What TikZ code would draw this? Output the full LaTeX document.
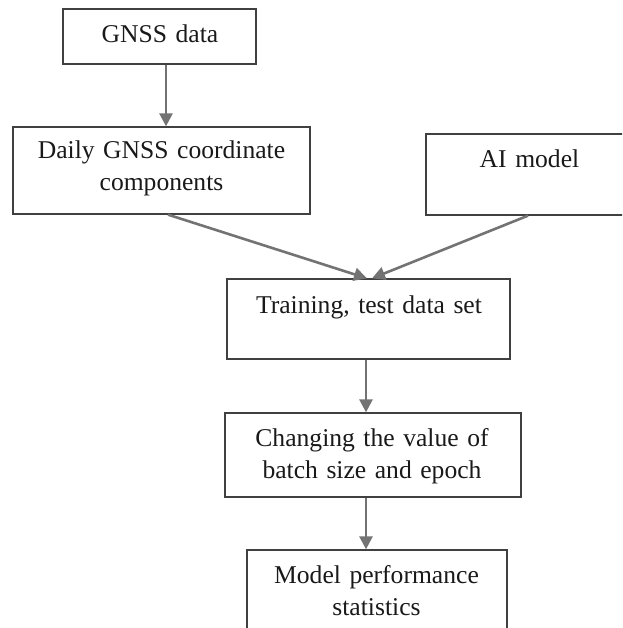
\documentclass[tikz,border=0pt]{standalone}
\usepackage{fontspec}
\setmainfont{Liberation Serif}
\usetikzlibrary{arrows.meta}
\begin{document}
\begin{tikzpicture}[x=1pt,y=-1pt,
  box/.style={draw=black!75,line width=1.3pt,inner sep=0pt,minimum width=#1},
  txt/.style={inner sep=0pt,anchor=base,text width=320pt,align=center,
    font=\fontsize{25.6}{32}\selectfont,text=black!90},
  arr/.style={draw=black!55,line width=2.6pt,-{Triangle[length=13pt,width=13pt]}}]
\useasboundingbox (0,0) rectangle (622,628);
\clip (0,0) rectangle (622,628);
% boxes
\node[box=193pt,minimum height=55pt] (gnss) at (159.5,36.5) {};
\node[box=297pt,minimum height=87pt] (daily) at (161.5,170.5) {};
\node[box=224pt,minimum height=81pt] (ai) at (538,174.5) {};
\node[box=283pt,minimum height=80pt] (train) at (368.5,319) {};
\node[box=296pt,minimum height=84pt] (change) at (373,455) {};
\node[box=260pt,minimum height=120pt] (model) at (377,610) {};
% texts
\node[txt] (t1) at (160,43) {GNSS data};
\node[txt] (t2) at (161.5,159) {Daily GNSS coordinate\\components};
\node[txt] (t3) at (529.5,168) {AI model};
\node[txt] (t4) at (369,313) {Training, test data set};
\node[txt] (t5) at (372,446) {Changing the value of\\batch size and epoch};
\node[txt] (t6) at (376.5,583) {Model performance\\statistics};
% connectors
\draw[arr] ([xshift=6.5pt]gnss.south) -- ([xshift=6.5pt]gnss.south |- daily.north);
\draw[arr] ([xshift=6.5pt]daily.south) -- ([xshift=-1.5pt]train.north);
\draw[arr] ([xshift=-10pt]ai.south) -- ([xshift=3.5pt]train.north);
\draw[arr] ([xshift=-2.5pt]train.south) -- ([xshift=-2.5pt]train.south |- change.north);
\draw[arr] ([xshift=-7pt]change.south) -- ([xshift=-7pt]change.south |- model.north);
\end{tikzpicture}
\end{document}
